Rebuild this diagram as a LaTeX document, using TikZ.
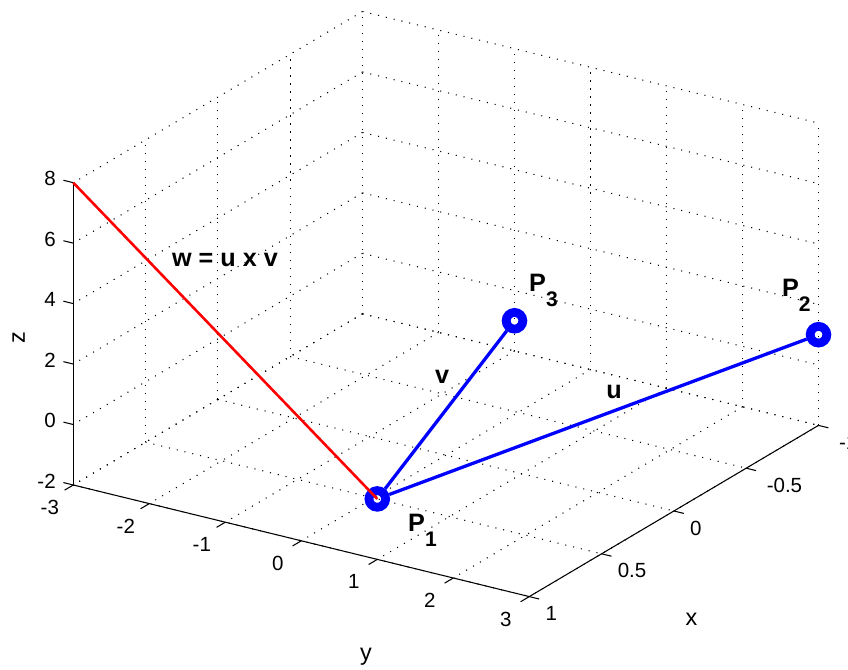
\documentclass[tikz,border=0pt]{standalone}
\usepackage{fontspec}
\setmainfont{Liberation Sans}
\usetikzlibrary{positioning, calc}

\newcommand{\psub}[1]{\raisebox{-12.9pt}{\fontsize{18}{20}\selectfont #1}}

\begin{document}
\begin{tikzpicture}[
        x={(-4.338cm,-2.568cm)}, y={(2.28cm,-0.558cm)}, z={(0cm,0.9069cm)},
        gridline/.style={line width=0.9pt, dash pattern=on 0.9pt off 5.93pt},
        axisline/.style={line width=0.9pt},
        ticklabel/.style={font=\fontsize{17.5}{20}\selectfont, inner sep=0pt},
        axislabel/.style={font=\fontsize{20}{22}\selectfont, inner sep=0pt},
        marker/.style={circle, draw=blue, line width=7.5pt, minimum size=0.5cm, inner sep=0pt},
        vecline/.style={draw=blue, line width=2.8pt},
        crossline/.style={draw=red, line width=2.2pt},
        veclabel/.style={font=\fontsize{21.5}{24}\selectfont\bfseries, inner sep=0pt}
    ]
    \clip (-13.377cm,-8.258cm) rectangle (12.063cm,11.842cm);

    % grid: floor and the two back walls
    \foreach \gx in {-1,-0.5,...,1} {
        \draw[gridline] (\gx,-3,-2) -- (\gx,3,-2);
        \draw[gridline] (\gx,-3,-2) -- (\gx,-3,8);
    }
    \foreach \gy in {-3,...,3} {
        \draw[gridline] (-1,\gy,-2) -- (1,\gy,-2);
        \draw[gridline] (-1,\gy,-2) -- (-1,\gy,8);
    }
    \foreach \gz in {-2,0,...,8} {
        \draw[gridline] (-1,-3,\gz) -- (-1,3,\gz);
        \draw[gridline] (-1,-3,\gz) -- (1,-3,\gz);
    }

    % axes, ticks and tick labels
    \draw[axisline] (1,-3,-2) -- (1,-3,8);
    \draw[axisline] (1,-3,-2) -- (1,3,-2) -- (-1,3,-2);
    \foreach \tz in {-2,0,...,8} {
        \draw[axisline] (1,-3,\tz) -- (1,-3.13,\tz);
        \node[ticklabel, anchor=east, xshift=-0.52cm, yshift=0.12cm] at (1,-3,\tz) {\tz};
    }
    \foreach \ty in {-3,...,3} {
        \draw[axisline] (1,\ty,-2) -- (1.06,\ty,-2);
        \node[ticklabel, xshift=-0.705cm, yshift=-0.675cm] at (1,\ty,-2) {\ty};
    }
    \foreach \tx/\txt/\dx in {-1/-1/0.61, -0.5/-0.5/0.61, 0/0/0.48, 0.5/0.5/0.48, 1/1/0.48} {
        \draw[axisline] (\tx,3,-2) -- (\tx,3.13,-2);
        \node[ticklabel, anchor=west, xshift=\dx cm, yshift=-0.51cm] at (\tx,3,-2) {\txt};
    }
    \node[axislabel, anchor=base, rotate=90] (zlab) at (-12.627cm,1.717cm) {z};
    \node[axislabel, anchor=base] (ylab) at (-2.397cm,-7.958cm) {y};
    \node[axislabel, anchor=base] (xlab) at (7.368cm,-6.908cm) {x};

    % points and vectors
    \node[marker] (p1) at (1,1,0) {};
    \node[marker] (p2) at (-1,3,1) {};
    \node[marker] (p3) at (-1,-1,-1) {};
    \coordinate (w) at (1,-3,8);
    \draw[vecline] (p1) -- (p2);
    \draw[vecline] (p1) -- (p3);
    \draw[crossline] (w) -- (p1.center);

    \path (p1.center) -- (p3.center) node[veclabel, pos=0.684, xshift=-0.87cm] {v};
    \path (p1.center) -- (p2.center) node[veclabel, pos=0.5365, yshift=0.56cm] {u};
    \path (p1.center) -- (w) node[veclabel, pos=0.7555, xshift=2.32cm] {w = u x v};
    \node[veclabel, anchor=base west, xshift=0.92cm, yshift=-0.98cm] at (p1.center) {P\psub{1}};
    \node[veclabel, anchor=base west, xshift=-1.10cm, yshift=1.14cm] at (p2.center) {P\psub{2}};
    \node[veclabel, anchor=base west, xshift=0.435cm, yshift=0.873cm] at (p3.center) {P\psub{3}};
\end{tikzpicture}
\end{document}
